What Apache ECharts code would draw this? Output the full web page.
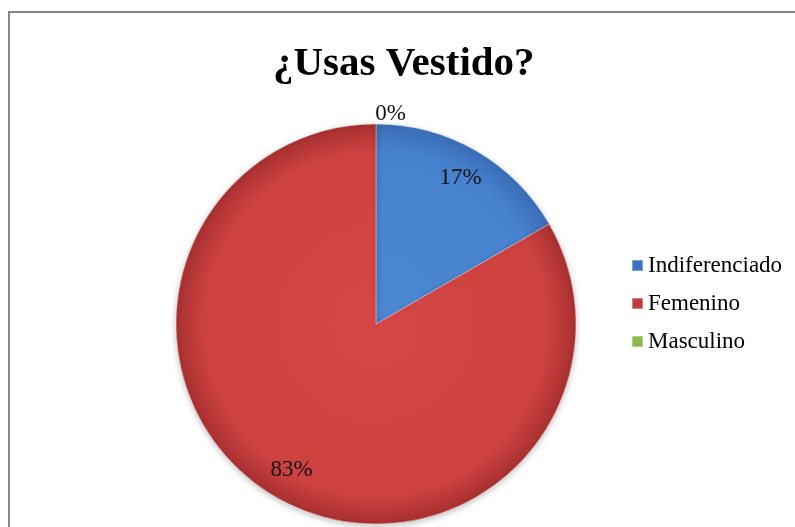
<!DOCTYPE html>
<html>
<head>
<meta charset="utf-8">
<script src="https://cdn.jsdelivr.net/npm/echarts@6/dist/echarts.min.js"></script>
<style>
html,body{margin:0;padding:0;background:#fff;}
#main{width:795px;height:527px;}
</style>
</head>
<body>
<div id="main"></div>
<script>
const titleText = '¿Usas Vestido?';
// slice order: zero slice first so its label sits at the top
const categories = ['Masculino', 'Indiferenciado', 'Femenino'];
const values = [0, 1, 5];
const legendOrder = ['Indiferenciado', 'Femenino', 'Masculino'];

const CX = 376, CY = 324, R = 200;
function grad(c0, c1, c2) {
  return {type: 'radial', x: CX, y: CY, r: R, global: true,
    colorStops: [{offset: 0, color: c0}, {offset: 0.86, color: c1}, {offset: 1, color: c2}]};
}
const fills = {
  'Indiferenciado': grad('#4C88D4', '#4782CF', '#3A6DB6'),
  'Femenino': grad('#D44747', '#CD4141', '#A83030'),
  'Masculino': grad('#9FC35C', '#9BBB59', '#7F9C45')
};
const legendColors = {
  'Indiferenciado': '#3D72C2',
  'Femenino': '#C23B3B',
  'Masculino': '#8DB84A'
};

const chart = echarts.init(document.getElementById('main'));
const labelFont = {fontFamily: 'Liberation Serif', fontSize: 23, color: '#111'};

chart.setOption({
  animation: false,
  backgroundColor: '#fff',
  graphic: [{
    type: 'rect', shape: {x: 9, y: 12, width: 900, height: 900},
    style: {fill: 'none', stroke: '#868686', lineWidth: 2}, silent: true, z: 100
  }],
  title: {
    text: titleText, left: 273, top: 44, padding: 0,
    textStyle: {fontFamily: 'Liberation Serif', fontWeight: 'bold', fontSize: 41, color: '#000'}
  },
  legend: {
    orient: 'vertical', left: 626, top: 249, itemWidth: 11, itemHeight: 11, itemGap: 15,
    icon: 'rect',
    data: legendOrder.map(n => ({name: n, itemStyle: {color: legendColors[n]}})),
    textStyle: {fontFamily: 'Liberation Serif', fontSize: 23, lineHeight: 23, color: '#000'}
  },
  series: [{
    type: 'pie', name: 'main', center: [CX, CY], radius: [0, R],
    startAngle: 90, clockwise: true, percentPrecision: 0, silent: true,
    avoidLabelOverlap: false,
    itemStyle: {borderColor: 'rgba(255,255,255,0.35)', borderWidth: 1,
      shadowBlur: 6, shadowColor: 'rgba(0,0,0,0.25)', shadowOffsetY: 2},
    labelLine: {show: false, length: 10, length2: 0},
    label: {show: false},
    data: categories.map((n, i) => ({
      name: n, value: values[i],
      itemStyle: {color: fills[n]},
      label: n === 'Masculino'
        ? Object.assign({show: true, position: 'outside', formatter: '{d}%', distanceToLabelLine: 2, offset: [32, 0]}, labelFont)
        : {show: false}
    }))
  }, {
    type: 'pie', name: 'labels', center: [CX, CY], radius: [140, 192],
    startAngle: 90, clockwise: true, percentPrecision: 0, silent: true,
    itemStyle: {color: 'rgba(0,0,0,0)', borderWidth: 0},
    labelLine: {show: false},
    data: categories.map((n, i) => ({
      name: n, value: values[i],
      label: n === 'Masculino'
        ? {show: false}
        : Object.assign({show: true, position: 'inside', formatter: '{d}%'}, labelFont)
    }))
  }]
});
</script>
</body>
</html>
